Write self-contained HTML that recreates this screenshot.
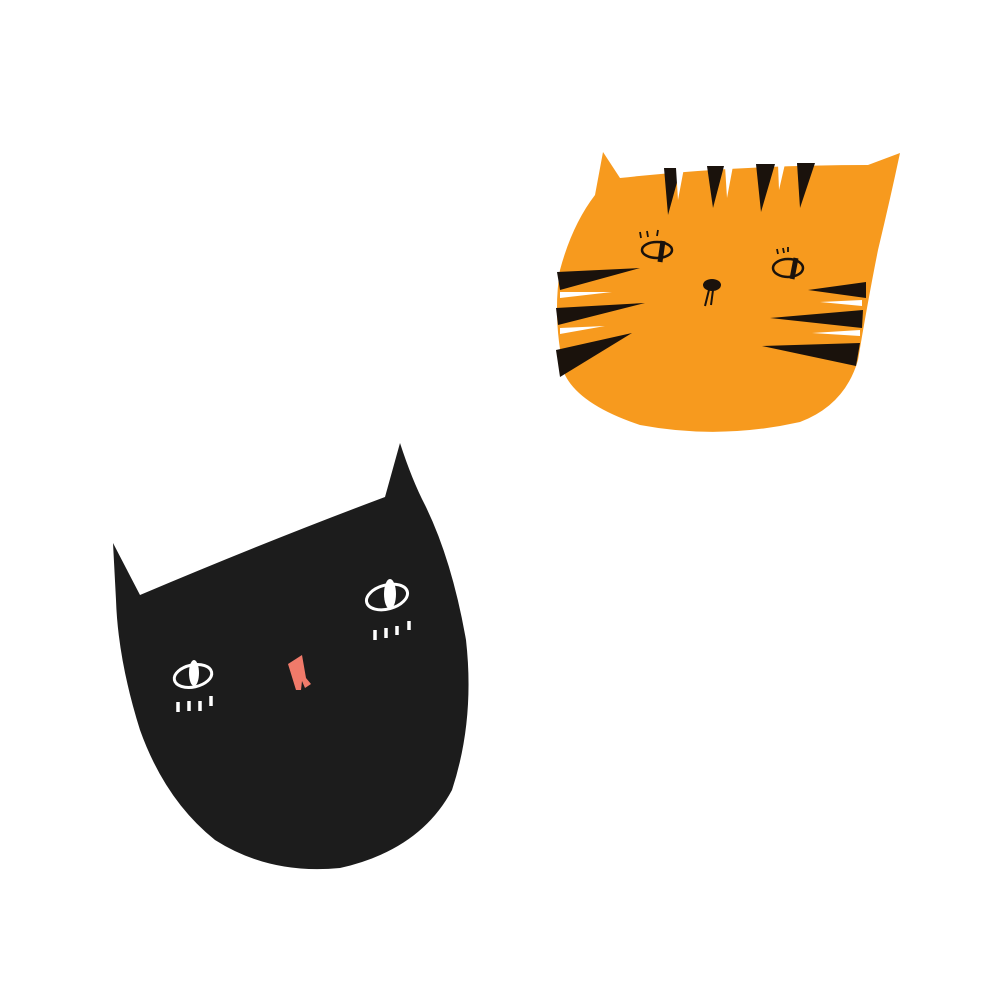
<!DOCTYPE html>
<html><head><style>html,body{margin:0;padding:0;background:#fff;}svg{display:block}</style></head>
<body>
<svg width="1000" height="1000" viewBox="0 0 1000 1000" xmlns="http://www.w3.org/2000/svg">
<!-- orange cat -->
<path d="M603,152 L620,178 Q740,165 868,165 L900,153 Q890,200 878,250 Q868,300 858,360 Q845,405 800,422 Q720,440 640,425 Q580,405 565,375 Q552,320 560,270 Q572,225 595,195 Z" fill="#F79A1E"/>
<g fill="#1a120c">
<polygon points="664,168 681,168 668,215"/>
<polygon points="707,166 724,166 713,208"/>
<polygon points="756,164 775,164 761,212"/>
<polygon points="797,163 815,163 800,208"/>
<polygon points="557,272 640,268 560,290"/>
<polygon points="556,308 645,303 558,325"/>
<polygon points="556,350 632,333 560,377"/>
<polygon points="866,282 808,290 866,298"/>
<polygon points="863,310 770,318 862,328"/>
<polygon points="860,343 762,346 856,366"/>
</g>
<g fill="#fff">
<polygon points="676,168 684,168 678,200"/>
<polygon points="725,166 733,166 727,198"/>
<polygon points="778,164 785,164 779,190"/>
<polygon points="560,292 612,292 560,298"/>
<polygon points="560,328 605,326 560,334"/>
<polygon points="862,300 820,302 862,306"/>
<polygon points="860,330 812,333 860,336"/>
</g>
<g stroke="#1a120c" fill="none" stroke-width="2.5">
<ellipse cx="657" cy="250" rx="15" ry="8"/>
<ellipse cx="788" cy="268" rx="15" ry="9"/>
<path d="M663,241 L660,262 M796,258 L792,279" stroke-width="5"/>
<path d="M640,232 l1,6 M647,231 l1,6 M658,230 l-1,6 M777,249 l1,5 M783,248 l1,5 M788,247 l0,5" stroke-width="1.8"/>
<path d="M709,290 L705,306 M713,290 L711,305" stroke-width="2"/>
</g>
<ellipse cx="712" cy="285" rx="9" ry="6" fill="#1a120c"/>
<!-- black cat -->
<path d="M113,543 L140,595 Q270,540 385,497 L400,443 Q412,480 425,505 Q452,560 466,640 Q475,720 452,790 Q420,850 340,868 Q270,875 215,840 Q165,800 140,730 Q118,660 116,600 Z" fill="#1c1c1c"/>
<g stroke="#fff" fill="none" stroke-width="3">
<ellipse cx="387" cy="597" rx="21" ry="12" transform="rotate(-15 387 597)"/>
<ellipse cx="193" cy="676" rx="19" ry="11" transform="rotate(-12 193 676)"/>
<path d="M375,630 l0,10 M386,628 l0,10 M397,626 l0,9 M409,621 l0,9 M178,702 l0,10 M189,701 l0,10 M200,701 l0,10 M211,696 l0,10" stroke-width="3.5"/>
</g>
<ellipse cx="390" cy="594" rx="6" ry="15" fill="#fff"/>
<ellipse cx="194" cy="673" rx="5" ry="13" fill="#fff"/>
<polygon points="288,664 302,655 306,678 311,684 305,688 302,681 301,690 296,690" fill="#F07A6A"/>
</svg>
</body></html>
